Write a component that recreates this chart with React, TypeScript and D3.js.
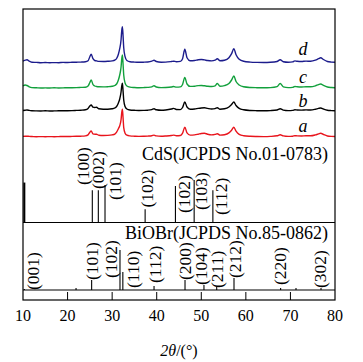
import React from 'react';
import * as d3 from 'd3';

// 2θ grid shared by the four measured patterns
const angles = [
  10, 10.5, 10.9, 11.4, 12,
  13, 14, 15, 16, 17, 18, 19, 20, 21, 22, 23,
  24, 24.6, 25.0, 25.3, 25.7, 26.1, 26.5, 27, 28, 29, 30,
  30.6, 31.0, 31.4, 31.7, 32.0, 32.15, 32.3, 32.45, 32.6, 32.9, 33.3, 34,
  35, 36, 37, 38, 38.9, 39.4, 39.9, 41, 42,
  43.3, 43.8, 44.4, 45.3, 45.8, 46.3, 46.8, 47.5, 48.5,
  49.3, 50.0, 50.7, 51.4, 52.3, 53.1, 53.6, 54.2,
  55.2, 56.2, 56.8, 57.3, 57.8, 58.5, 59.5,
  61, 62.5, 64, 65.5, 67, 67.7, 68.4, 69.5, 70.5,
  71.0, 71.5, 72.5, 73.5, 74.5, 75.6, 76.3, 76.8, 77.4, 78.3, 79.2, 80,
];

const seriesA = [
  0.3, 0.4, 0.5, 0.3, 0.2,
  0, 0.1, 0, 0.1, 0, 0.1, 0.2, 0.2, 0.3, 0.4, 0.5,
  0.8, 1.8, 4.5, 5.7, 2.8, 2.5, 2.4, 1.5, 1.2, 1.3, 1.8,
  2.6, 4.5, 8, 11, 17, 24, 27.5, 19, 9, 3.5, 1.5, 0.8,
  0.5, 0.3, 0.4, 0.6, 1, 1.6, 0.8, 0.5, 0.7,
  1.2, 1.6, 1, 1.2, 3.5, 9.5, 3.8, 1.6, 1.8,
  2.5, 3.2, 3.5, 2.5, 1.8, 2.3, 3, 1.6,
  2, 3.8, 6.5, 9.5, 5.5, 2.4, 1,
  0.4, 0.2, 0.1, 0.3, 0.9, 2, 0.8, 0.3, 0.5,
  1, 0.8, 0.7, 0.9, 0.9, 1.8, 2.8, 3.5, 2.2, 0.7, 0.3, 0.2,
];

const seriesB = [
  0.5, 0.8, 1, 0.6, 0.3,
  0.1, 0, 0.2, 0, 0.1, 0.2, 0.3, 0.3, 0.4, 0.6, 0.8,
  1.2, 2.5, 5, 6, 3.8, 3.5, 3.7, 2.2, 1.8, 1.8, 2.2,
  3, 4.5, 8, 12, 19, 25, 27.7, 20, 11, 4.5, 2, 1,
  0.7, 0.5, 0.6, 0.8, 1.4, 2.2, 1.2, 0.7, 1,
  2, 2.6, 1.5, 1.4, 3.5, 9, 4, 1.8, 2,
  2.6, 3, 3.2, 2.6, 2, 2.4, 3.2, 1.8,
  2.2, 4, 6.5, 9, 5.5, 2.6, 1.2,
  0.5, 0.3, 0.2, 0.4, 1, 2.2, 0.9, 0.4, 0.6,
  1.2, 1, 0.9, 1.1, 1, 1.8, 2.6, 3, 2, 0.8, 0.4, 0.2,
];

const seriesC = [
  2, 3, 2.5, 1.2, 0.4,
  0.2, 0, 0.1, 0, 0.2, 0, 0.1, 0.3, 0.3, 0.4, 0.6,
  0.8, 2, 5.5, 8, 3.5, 2, 1.5, 1.2, 1.1, 1.3, 1.7,
  2.5, 4, 8, 13, 21, 29, 33, 24, 13, 5, 2, 0.9,
  0.5, 0.3, 0.4, 0.6, 1.2, 2.3, 1, 0.4, 0.5,
  1, 1.5, 0.9, 1.1, 3.5, 10.5, 4, 1.6, 1.8,
  2.4, 2.5, 2.2, 1.8, 1.5, 2.2, 4.5, 1.8,
  2.4, 4.5, 8, 12, 6.5, 3, 1.2,
  0.5, 0.3, 0.2, 0.4, 1.4, 4.5, 1.2, 0.4, 0.6,
  1.5, 1.2, 1, 1.3, 1.2, 2.2, 3.4, 4, 2.6, 1, 0.5, 0.3,
];

const seriesD = [
  1.5, 2.5, 3, 1.5, 0.5,
  0.3, 0, 0.2, 0, 0.1, 0, 0.3, 0.2, 0.4, 0.5, 0.6,
  0.9, 2, 6, 8.5, 4, 2.2, 1.8, 1.3, 1.2, 1.4, 1.8,
  2.6, 4.2, 8.5, 14, 23, 32, 36, 27, 15, 6, 2.2, 1,
  0.6, 0.4, 0.5, 0.7, 1.5, 2.5, 1.2, 0.5, 0.6,
  1.2, 1.5, 1, 1.3, 4, 13.5, 5, 2, 2.2,
  3, 3.2, 2.8, 2.2, 1.8, 2.5, 4, 2,
  2.5, 5, 9, 14, 8, 3.5, 1.4,
  0.6, 0.3, 0.2, 0.4, 1.2, 3, 1, 0.5, 0.8,
  1.8, 1.4, 1.2, 1.6, 1.4, 2.5, 4, 5, 3.2, 1.2, 0.6, 0.4,
];

const curveNames = ['a', 'b', 'c', 'd'];
const curveSeries = [seriesA, seriesB, seriesC, seriesD];
const curveColors = ['#e8141c', '#000000', '#12a03c', '#1c1c8c'];
// vertical stacking of the patterns, in intensity units
const curveOffsets = [8.3, 34, 57, 82.3];

// reference cards
const cdsAngles = [10.3, 25.55, 26.9, 28.4, 37.4, 44.2, 48.4, 52.6];
const cdsIntensity = [94, 76, 76, 88, 31, 86, 100, 76];
const cdsLabels = ['', '(100)', '(002)', '(101)', '(102)', '(102)', '(103)', '(112)'];

const biobrAngles = [10.3, 21.9, 25.4, 31.76, 32.4, 39.4, 46.35, 50.6, 53.46, 57.34, 67.8, 71.25, 76.86];
const biobrIntensity = [2.5, 5, 25, 100, 45, 10, 25, 12.5, 7.5, 30, 5, 5, 5];
const biobrLabels = ['(001)', '', '(101)', '(102)', '(110)', '(112)', '(200)', '(104)', '(211)', '(212)', '(220)', '', '(302)'];

const xTicks = [10, 20, 30, 40, 50, 60, 70, 80];

// hand placement of the rotated hkl labels (px)
const cdsLabelDx = [0, -9, 0, 10.5, 1.5, 8.7, 7, 8.3];
const cdsLabelRise = [0, 37.5, 33.5, 22.5, 15, 9.5, 12.5, 7.5];
const biobrLabelDx = [9, 0, 0, -8.5, 10, 1, 0, -2.5, 0, 1, -1, 0, -1];
const biobrLabelRise = [0, 0, 10, 12, 2, 7, 10, 5, 2, 12, 5, 0, 2];

const W = 363, H = 362;
const left = 23, right = 335, top = 9, bottom = 300;
const cdsBase = 222.5, biobrBase = 290;
const serif = '"Liberation Serif", "Times New Roman", serif';

export default function App() {
  const x = d3.scaleLinear().domain([10, 80]).range([left, right]);
  const yCurve = d3.scaleLinear().domain([0, 140]).range([145, 5]);
  const yCds = d3.scaleLinear().domain([0, 100]).range([cdsBase, cdsBase - 42.5]);
  const yBiobr = d3.scaleLinear().domain([0, 100]).range([biobrBase, biobrBase - 40]);

  const hklLabel = (txt: string, cx: number, by: number, key: string) => (
    <text key={key} transform={`translate(${cx},${by}) rotate(-90)`} dy="0.34em"
      fontSize={17.5} fontFamily={serif}>{txt}</text>
  );

  return (
    <svg width={W} height={H} style={{ position: 'absolute', left: 0, top: 0, background: '#fff' }}>
      {curveSeries.map((s, k) => {
        const line = d3.line<number>()
          .x((_, i) => x(angles[i]))
          .y(v => yCurve(v + curveOffsets[k]))
          .curve(d3.curveMonotoneX);
        return <path key={curveNames[k]} d={line(s) || ''} fill="none"
          stroke={curveColors[k]} strokeWidth={1.4} strokeLinejoin="round" />;
      })}
      {curveNames.map((n, k) => (
        <text key={'lbl' + n} x={303} y={[132, 107, 83, 55][k]} textAnchor="middle"
          fontSize={18} fontStyle="italic" fontFamily={serif}>{n}</text>
      ))}

      {/* CdS card */}
      <text x={328} y={160} textAnchor="end" fontSize={18} fontFamily={serif}>CdS(JCPDS No.01-0783)</text>
      {cdsAngles.map((a, i) => (
        <line key={'cs' + i} x1={x(a)} x2={x(a)} y1={cdsBase} y2={yCds(cdsIntensity[i])}
          stroke="#000" strokeWidth={i === 0 ? 2 : 1.1} />
      ))}
      {cdsLabels.map((l, i) => l && hklLabel(l, x(cdsAngles[i]) + cdsLabelDx[i], cdsBase - cdsLabelRise[i], 'cl' + i))}
      <line x1={left} x2={right} y1={cdsBase} y2={cdsBase} stroke="#000" strokeWidth={1.2} />

      {/* BiOBr card */}
      <text x={328} y={239} textAnchor="end" fontSize={18} fontFamily={serif}>BiOBr(JCPDS No.85-0862)</text>
      {biobrAngles.map((a, i) => (
        <line key={'bs' + i} x1={x(a)} x2={x(a)} y1={biobrBase} y2={yBiobr(biobrIntensity[i])}
          stroke="#000" strokeWidth={1.1} />
      ))}
      {biobrLabels.map((l, i) => l && hklLabel(l, x(biobrAngles[i]) + biobrLabelDx[i], biobrBase - biobrLabelRise[i], 'bl' + i))}
      <line x1={left} x2={right} y1={biobrBase} y2={biobrBase} stroke="#000" strokeWidth={1.2} />

      {/* frame and axis */}
      <rect x={left} y={top} width={right - left} height={bottom - top} fill="none" stroke="#000" strokeWidth={1.2} />
      {xTicks.slice(1, -1).map(t => (
        <line key={'t' + t} x1={x(t)} x2={x(t)} y1={bottom} y2={bottom - 8} stroke="#000" strokeWidth={1} />
      ))}
      {xTicks.map(t => (
        <text key={'tl' + t} x={x(t)} y={321} textAnchor="middle" fontSize={16} fontFamily={serif}>{t}</text>
      ))}
      <text x={179} y={356} textAnchor="middle" fontSize={16} fontFamily={serif}>
        <tspan fontStyle="italic">2θ</tspan>/(°)
      </text>
    </svg>
  );
}
